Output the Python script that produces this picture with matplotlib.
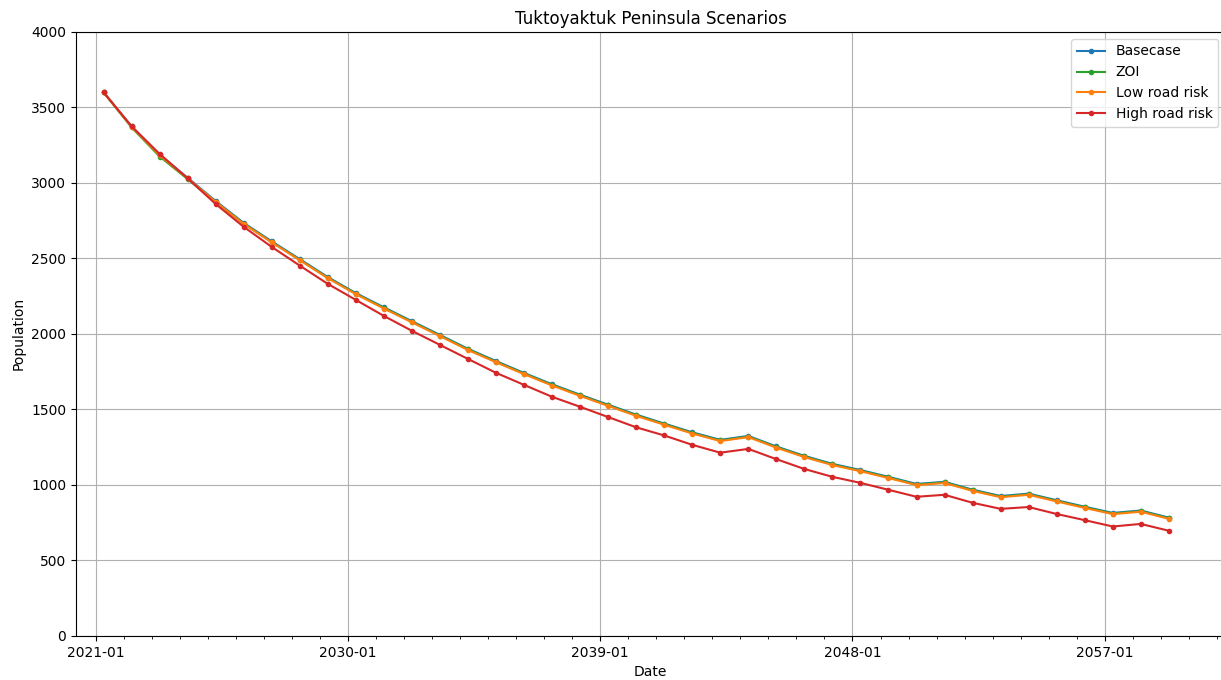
from datetime import datetime

import matplotlib

matplotlib.use("Agg")
import matplotlib.dates as mdates
import matplotlib.pyplot as plt
from matplotlib.ticker import FixedLocator

years = list(range(2021, 2060))
tick_years = [2021, 2030, 2039, 2048, 2057]

basecase = [3600, 3374, 3186, 3034, 2880, 2735, 2613, 2495, 2376, 2270,
            2176, 2084, 1993, 1901, 1820, 1741, 1666, 1597, 1531, 1465,
            1406, 1348, 1298, 1324, 1254, 1192, 1139, 1098, 1053, 1006,
            1020, 968, 926, 942, 898, 855, 814, 830, 783]
zoi = [3600, 3368, 3175, 3025, 2872, 2730, 2608, 2490, 2372, 2266,
       2172, 2080, 1989, 1897, 1816, 1737, 1662, 1593, 1527, 1461,
       1402, 1344, 1294, 1320, 1250, 1188, 1135, 1094, 1049, 1002,
       1016, 964, 922, 938, 894, 851, 810, 826, 779]
low_road = [3600, 3372, 3183, 3030, 2874, 2728, 2606, 2488, 2369, 2263,
            2168, 2076, 1985, 1893, 1812, 1733, 1658, 1589, 1523, 1457,
            1398, 1340, 1290, 1316, 1246, 1184, 1131, 1090, 1045, 998,
            1012, 960, 918, 934, 890, 847, 806, 822, 775]
high_road = [3600, 3375, 3192, 3030, 2860, 2709, 2576, 2452, 2331, 2225,
             2119, 2020, 1927, 1834, 1742, 1662, 1583, 1517, 1449, 1381,
             1327, 1265, 1213, 1238, 1170, 1105, 1053, 1013, 967, 921,
             934, 881, 841, 853, 807, 766, 724, 741, 696]

dates = [datetime(y, 4, 15) for y in years]

fig, ax = plt.subplots(figsize=(12.21, 6.8), dpi=100)
# axes runs slightly past the right edge of the canvas
fig.subplots_adjust(left=0.0622, right=1.0035, top=0.953, bottom=0.065)

ax.plot(dates, basecase, marker=".", color="tab:blue", label="Basecase")
ax.plot(dates, zoi, marker=".", color="tab:green", label="ZOI")
ax.plot(dates, low_road, marker=".", color="tab:orange", label="Low road risk")
ax.plot(dates, high_road, marker=".", color="tab:red", label="High road risk")

ax.set_ylim(0, 4000)
ax.set_xlim(datetime(2020, 4, 20), datetime(2061, 4, 20))
ax.xaxis.set_major_locator(
    FixedLocator([mdates.date2num(datetime(y, 1, 1)) for y in tick_years])
)
ax.xaxis.set_minor_locator(mdates.YearLocator(1))
ax.xaxis.set_major_formatter(mdates.DateFormatter("%Y-%m"))

ax.grid(True)
ax.set_title("Tuktoyaktuk Peninsula Scenarios")
ax.set_xlabel("Date")
ax.set_ylabel("Population")
ax.legend(loc="upper right")

fig.savefig("out.png")
